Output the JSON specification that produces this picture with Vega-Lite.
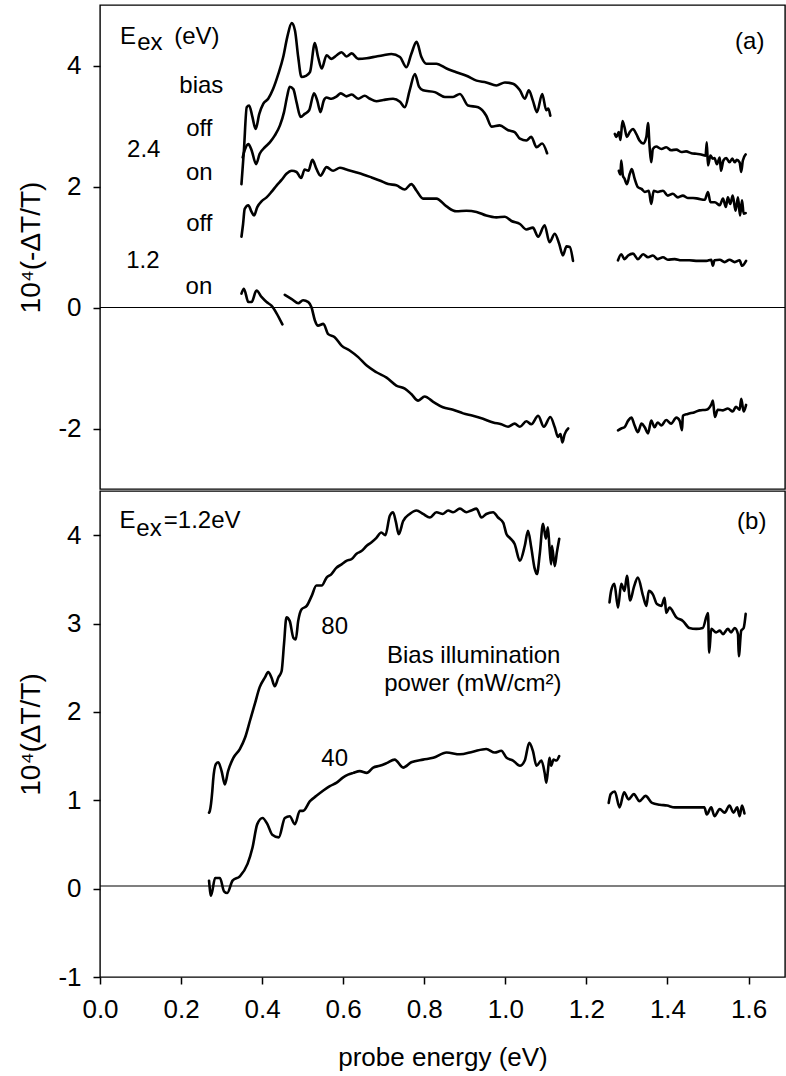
{
"$schema":"https://vega.github.io/schema/vega-lite/v6.json",
"padding":{"left":17,"top":4,"right":0,"bottom":0},
"spacing":0,
"config":{
 "view":{"stroke":"black","strokeWidth":1.4},
 "font":"Liberation Sans",
 "axis":{"grid":false,"domain":false,"tickColor":"black","tickWidth":1.5,"tickSize":7,"labelColor":"black","labelFont":"Liberation Sans","labelFontSize":26,"titleFont":"Liberation Sans","titleFontSize":28,"titleFontWeight":"normal","titleColor":"black","labelFlush":false}
},
"datasets":{
"la":[
{"s":"a1","x":0.349,"y":2.04},{"s":"a1","x":0.355,"y":2.59},{"s":"a1","x":0.362,"y":3.31},{"s":"a1","x":0.368,"y":3.34},{"s":"a1","x":0.376,"y":3.15},{"s":"a1","x":0.384,"y":2.95},{"s":"a1","x":0.393,"y":3.20},{"s":"a1","x":0.403,"y":3.37},{"s":"a1","x":0.415,"y":3.45},{"s":"a1","x":0.427,"y":3.61},{"s":"a1","x":0.440,"y":3.86},{"s":"a1","x":0.452,"y":4.14},{"s":"a1","x":0.462,"y":4.47},{"s":"a1","x":0.473,"y":4.70},{"s":"a1","x":0.481,"y":4.58},{"s":"a1","x":0.489,"y":4.14},{"s":"a1","x":0.497,"y":3.81},{"s":"a1","x":0.508,"y":3.83},{"s":"a1","x":0.518,"y":3.89},{"s":"a1","x":0.530,"y":4.37},{"s":"a1","x":0.538,"y":4.14},{"s":"a1","x":0.547,"y":3.95},{"s":"a1","x":0.559,"y":4.17},{"s":"a1","x":0.571,"y":4.11},{"s":"a1","x":0.584,"y":4.17},{"s":"a1","x":0.596,"y":4.22},{"s":"a1","x":0.608,"y":4.15},{"s":"a1","x":0.621,"y":4.20},{"s":"a1","x":0.637,"y":4.11},{"s":"a1","x":0.658,"y":4.12},{"s":"a1","x":0.682,"y":4.15},{"s":"a1","x":0.699,"y":4.17},{"s":"a1","x":0.719,"y":4.19},{"s":"a1","x":0.740,"y":4.14},{"s":"a1","x":0.756,"y":3.97},{"s":"a1","x":0.768,"y":4.19},{"s":"a1","x":0.781,"y":4.39},{"s":"a1","x":0.793,"y":4.14},{"s":"a1","x":0.805,"y":4.03},{"s":"a1","x":0.830,"y":4.03},{"s":"a1","x":0.855,"y":3.95},{"s":"a1","x":0.879,"y":3.89},{"s":"a1","x":0.904,"y":3.83},{"s":"a1","x":0.929,"y":3.75},{"s":"a1","x":0.953,"y":3.72},{"s":"a1","x":0.978,"y":3.67},{"s":"a1","x":0.999,"y":3.72},{"s":"a1","x":1.019,"y":3.70},{"s":"a1","x":1.036,"y":3.59},{"s":"a1","x":1.048,"y":3.45},{"s":"a1","x":1.058,"y":3.59},{"s":"a1","x":1.068,"y":3.42},{"s":"a1","x":1.078,"y":3.23},{"s":"a1","x":1.091,"y":3.53},{"s":"a1","x":1.101,"y":3.26},{"s":"a1","x":1.106,"y":3.29},{"s":"a1","x":1.111,"y":3.17},
{"s":"a1r","x":1.270,"y":2.87},{"s":"a1r","x":1.274,"y":2.82},{"s":"a1r","x":1.280,"y":2.90},{"s":"a1r","x":1.284,"y":2.77},{"s":"a1r","x":1.289,"y":3.08},{"s":"a1r","x":1.294,"y":2.98},{"s":"a1r","x":1.300,"y":2.82},{"s":"a1r","x":1.307,"y":2.90},{"s":"a1r","x":1.315,"y":2.95},{"s":"a1r","x":1.323,"y":2.87},{"s":"a1r","x":1.331,"y":2.76},{"s":"a1r","x":1.340,"y":2.71},{"s":"a1r","x":1.348,"y":2.82},{"s":"a1r","x":1.352,"y":3.05},{"s":"a1r","x":1.356,"y":2.65},{"s":"a1r","x":1.360,"y":2.40},{"s":"a1r","x":1.364,"y":2.62},{"s":"a1r","x":1.372,"y":2.66},{"s":"a1r","x":1.385,"y":2.62},{"s":"a1r","x":1.397,"y":2.65},{"s":"a1r","x":1.409,"y":2.60},{"s":"a1r","x":1.422,"y":2.61},{"s":"a1r","x":1.434,"y":2.57},{"s":"a1r","x":1.446,"y":2.58},{"s":"a1r","x":1.459,"y":2.55},{"s":"a1r","x":1.471,"y":2.54},{"s":"a1r","x":1.483,"y":2.53},{"s":"a1r","x":1.494,"y":2.51},{"s":"a1r","x":1.497,"y":2.73},{"s":"a1r","x":1.500,"y":2.35},{"s":"a1r","x":1.506,"y":2.51},{"s":"a1r","x":1.512,"y":2.46},{"s":"a1r","x":1.516,"y":2.47},{"s":"a1r","x":1.522,"y":2.37},{"s":"a1r","x":1.529,"y":2.48},{"s":"a1r","x":1.532,"y":2.26},{"s":"a1r","x":1.538,"y":2.43},{"s":"a1r","x":1.545,"y":2.47},{"s":"a1r","x":1.553,"y":2.40},{"s":"a1r","x":1.560,"y":2.46},{"s":"a1r","x":1.566,"y":2.40},{"s":"a1r","x":1.571,"y":2.44},{"s":"a1r","x":1.578,"y":2.40},{"s":"a1r","x":1.582,"y":2.24},{"s":"a1r","x":1.586,"y":2.43},{"s":"a1r","x":1.593,"y":2.53},
{"s":"a2","x":0.352,"y":2.48},{"s":"a2","x":0.357,"y":2.60},{"s":"a2","x":0.366,"y":2.70},{"s":"a2","x":0.374,"y":2.60},{"s":"a2","x":0.385,"y":2.37},{"s":"a2","x":0.394,"y":2.54},{"s":"a2","x":0.407,"y":2.65},{"s":"a2","x":0.419,"y":2.73},{"s":"a2","x":0.431,"y":2.84},{"s":"a2","x":0.444,"y":3.01},{"s":"a2","x":0.454,"y":3.23},{"s":"a2","x":0.462,"y":3.50},{"s":"a2","x":0.468,"y":3.65},{"s":"a2","x":0.477,"y":3.61},{"s":"a2","x":0.485,"y":3.39},{"s":"a2","x":0.495,"y":3.15},{"s":"a2","x":0.505,"y":3.20},{"s":"a2","x":0.516,"y":3.26},{"s":"a2","x":0.528,"y":3.54},{"s":"a2","x":0.536,"y":3.42},{"s":"a2","x":0.544,"y":3.23},{"s":"a2","x":0.552,"y":3.42},{"s":"a2","x":0.559,"y":3.47},{"s":"a2","x":0.571,"y":3.45},{"s":"a2","x":0.584,"y":3.49},{"s":"a2","x":0.594,"y":3.54},{"s":"a2","x":0.608,"y":3.49},{"s":"a2","x":0.621,"y":3.52},{"s":"a2","x":0.637,"y":3.45},{"s":"a2","x":0.653,"y":3.50},{"s":"a2","x":0.666,"y":3.45},{"s":"a2","x":0.682,"y":3.41},{"s":"a2","x":0.699,"y":3.43},{"s":"a2","x":0.723,"y":3.45},{"s":"a2","x":0.740,"y":3.40},{"s":"a2","x":0.752,"y":3.31},{"s":"a2","x":0.764,"y":3.59},{"s":"a2","x":0.777,"y":3.86},{"s":"a2","x":0.787,"y":3.65},{"s":"a2","x":0.797,"y":3.59},{"s":"a2","x":0.826,"y":3.56},{"s":"a2","x":0.851,"y":3.48},{"s":"a2","x":0.871,"y":3.48},{"s":"a2","x":0.888,"y":3.53},{"s":"a2","x":0.908,"y":3.34},{"s":"a2","x":0.933,"y":3.31},{"s":"a2","x":0.953,"y":3.17},{"s":"a2","x":0.966,"y":2.99},{"s":"a2","x":0.986,"y":3.01},{"s":"a2","x":1.007,"y":2.93},{"s":"a2","x":1.023,"y":2.90},{"s":"a2","x":1.036,"y":2.79},{"s":"a2","x":1.052,"y":2.76},{"s":"a2","x":1.064,"y":2.82},{"s":"a2","x":1.077,"y":2.65},{"s":"a2","x":1.091,"y":2.71},{"s":"a2","x":1.103,"y":2.55},
{"s":"a2r","x":1.280,"y":2.26},{"s":"a2r","x":1.284,"y":2.20},{"s":"a2r","x":1.286,"y":2.43},{"s":"a2r","x":1.290,"y":2.18},{"s":"a2r","x":1.294,"y":2.13},{"s":"a2r","x":1.300,"y":2.04},{"s":"a2r","x":1.307,"y":2.21},{"s":"a2r","x":1.312,"y":2.29},{"s":"a2r","x":1.319,"y":2.13},{"s":"a2r","x":1.327,"y":1.99},{"s":"a2r","x":1.336,"y":1.96},{"s":"a2r","x":1.344,"y":1.91},{"s":"a2r","x":1.354,"y":1.93},{"s":"a2r","x":1.360,"y":1.71},{"s":"a2r","x":1.366,"y":1.93},{"s":"a2r","x":1.376,"y":1.91},{"s":"a2r","x":1.389,"y":1.93},{"s":"a2r","x":1.401,"y":1.85},{"s":"a2r","x":1.413,"y":1.88},{"s":"a2r","x":1.426,"y":1.82},{"s":"a2r","x":1.438,"y":1.85},{"s":"a2r","x":1.450,"y":1.81},{"s":"a2r","x":1.463,"y":1.81},{"s":"a2r","x":1.475,"y":1.80},{"s":"a2r","x":1.492,"y":1.78},{"s":"a2r","x":1.500,"y":1.91},{"s":"a2r","x":1.506,"y":1.74},{"s":"a2r","x":1.517,"y":1.74},{"s":"a2r","x":1.529,"y":1.69},{"s":"a2r","x":1.537,"y":1.80},{"s":"a2r","x":1.544,"y":1.66},{"s":"a2r","x":1.549,"y":1.82},{"s":"a2r","x":1.555,"y":1.71},{"s":"a2r","x":1.561,"y":1.85},{"s":"a2r","x":1.568,"y":1.60},{"s":"a2r","x":1.574,"y":1.82},{"s":"a2r","x":1.579,"y":1.52},{"s":"a2r","x":1.584,"y":1.77},{"s":"a2r","x":1.588,"y":1.55},{"s":"a2r","x":1.593,"y":1.56},
{"s":"a3","x":0.349,"y":1.17},{"s":"a3","x":0.353,"y":1.38},{"s":"a3","x":0.357,"y":1.63},{"s":"a3","x":0.366,"y":1.69},{"s":"a3","x":0.374,"y":1.58},{"s":"a3","x":0.380,"y":1.52},{"s":"a3","x":0.388,"y":1.66},{"s":"a3","x":0.399,"y":1.76},{"s":"a3","x":0.411,"y":1.82},{"s":"a3","x":0.423,"y":1.91},{"s":"a3","x":0.436,"y":2.02},{"s":"a3","x":0.448,"y":2.11},{"s":"a3","x":0.460,"y":2.21},{"s":"a3","x":0.473,"y":2.26},{"s":"a3","x":0.485,"y":2.24},{"s":"a3","x":0.496,"y":2.14},{"s":"a3","x":0.505,"y":2.28},{"s":"a3","x":0.514,"y":2.26},{"s":"a3","x":0.524,"y":2.44},{"s":"a3","x":0.534,"y":2.29},{"s":"a3","x":0.544,"y":2.18},{"s":"a3","x":0.559,"y":2.32},{"s":"a3","x":0.575,"y":2.26},{"s":"a3","x":0.592,"y":2.31},{"s":"a3","x":0.608,"y":2.28},{"s":"a3","x":0.629,"y":2.24},{"s":"a3","x":0.649,"y":2.20},{"s":"a3","x":0.670,"y":2.15},{"s":"a3","x":0.690,"y":2.10},{"s":"a3","x":0.711,"y":2.04},{"s":"a3","x":0.731,"y":2.02},{"s":"a3","x":0.752,"y":1.95},{"s":"a3","x":0.768,"y":2.04},{"s":"a3","x":0.781,"y":1.93},{"s":"a3","x":0.797,"y":1.80},{"s":"a3","x":0.830,"y":1.80},{"s":"a3","x":0.855,"y":1.67},{"s":"a3","x":0.879,"y":1.59},{"s":"a3","x":0.904,"y":1.60},{"s":"a3","x":0.929,"y":1.58},{"s":"a3","x":0.953,"y":1.52},{"s":"a3","x":0.978,"y":1.49},{"s":"a3","x":0.999,"y":1.50},{"s":"a3","x":1.015,"y":1.43},{"s":"a3","x":1.036,"y":1.38},{"s":"a3","x":1.052,"y":1.29},{"s":"a3","x":1.068,"y":1.32},{"s":"a3","x":1.081,"y":1.17},{"s":"a3","x":1.097,"y":1.36},{"s":"a3","x":1.109,"y":1.08},{"s":"a3","x":1.122,"y":1.22},{"s":"a3","x":1.133,"y":1.05},{"s":"a3","x":1.142,"y":0.86},{"s":"a3","x":1.151,"y":1.01},{"s":"a3","x":1.159,"y":1.00},{"s":"a3","x":1.167,"y":0.77},
{"s":"a3r","x":1.278,"y":0.78},{"s":"a3r","x":1.286,"y":0.88},{"s":"a3r","x":1.294,"y":0.80},{"s":"a3r","x":1.303,"y":0.86},{"s":"a3r","x":1.315,"y":0.89},{"s":"a3r","x":1.327,"y":0.80},{"s":"a3r","x":1.340,"y":0.88},{"s":"a3r","x":1.352,"y":0.83},{"s":"a3r","x":1.364,"y":0.86},{"s":"a3r","x":1.376,"y":0.80},{"s":"a3r","x":1.389,"y":0.83},{"s":"a3r","x":1.401,"y":0.79},{"s":"a3r","x":1.418,"y":0.80},{"s":"a3r","x":1.434,"y":0.78},{"s":"a3r","x":1.454,"y":0.78},{"s":"a3r","x":1.475,"y":0.77},{"s":"a3r","x":1.496,"y":0.77},{"s":"a3r","x":1.508,"y":0.79},{"s":"a3r","x":1.512,"y":0.69},{"s":"a3r","x":1.516,"y":0.78},{"s":"a3r","x":1.529,"y":0.79},{"s":"a3r","x":1.541,"y":0.75},{"s":"a3r","x":1.553,"y":0.79},{"s":"a3r","x":1.566,"y":0.75},{"s":"a3r","x":1.578,"y":0.78},{"s":"a3r","x":1.584,"y":0.69},{"s":"a3r","x":1.594,"y":0.77},
{"s":"a4l","x":0.349,"y":0.23},{"s":"a4l","x":0.355,"y":0.31},{"s":"a4l","x":0.366,"y":0.09},{"s":"a4l","x":0.374,"y":0.09},{"s":"a4l","x":0.386,"y":0.28},{"s":"a4l","x":0.399,"y":0.17},{"s":"a4l","x":0.411,"y":0.09},{"s":"a4l","x":0.423,"y":0.03},{"s":"a4l","x":0.436,"y":-0.10},{"s":"a4l","x":0.450,"y":-0.28},
{"s":"a4","x":0.456,"y":0.21},{"s":"a4","x":0.473,"y":0.14},{"s":"a4","x":0.489,"y":0.07},{"s":"a4","x":0.501,"y":0.12},{"s":"a4","x":0.514,"y":0.09},{"s":"a4","x":0.522,"y":0.00},{"s":"a4","x":0.530,"y":-0.21},{"s":"a4","x":0.538,"y":-0.30},{"s":"a4","x":0.551,"y":-0.27},{"s":"a4","x":0.563,"y":-0.44},{"s":"a4","x":0.579,"y":-0.49},{"s":"a4","x":0.596,"y":-0.63},{"s":"a4","x":0.616,"y":-0.71},{"s":"a4","x":0.637,"y":-0.82},{"s":"a4","x":0.658,"y":-0.96},{"s":"a4","x":0.682,"y":-1.07},{"s":"a4","x":0.707,"y":-1.16},{"s":"a4","x":0.731,"y":-1.29},{"s":"a4","x":0.752,"y":-1.34},{"s":"a4","x":0.768,"y":-1.43},{"s":"a4","x":0.785,"y":-1.54},{"s":"a4","x":0.801,"y":-1.47},{"s":"a4","x":0.822,"y":-1.56},{"s":"a4","x":0.846,"y":-1.65},{"s":"a4","x":0.871,"y":-1.69},{"s":"a4","x":0.896,"y":-1.75},{"s":"a4","x":0.920,"y":-1.79},{"s":"a4","x":0.945,"y":-1.84},{"s":"a4","x":0.970,"y":-1.90},{"s":"a4","x":0.990,"y":-1.93},{"s":"a4","x":1.007,"y":-1.97},{"s":"a4","x":1.023,"y":-1.92},{"s":"a4","x":1.036,"y":-1.97},{"s":"a4","x":1.052,"y":-1.88},{"s":"a4","x":1.064,"y":-1.93},{"s":"a4","x":1.081,"y":-1.79},{"s":"a4","x":1.095,"y":-1.97},{"s":"a4","x":1.111,"y":-1.81},{"s":"a4","x":1.122,"y":-1.98},{"s":"a4","x":1.130,"y":-2.14},{"s":"a4","x":1.136,"y":-2.09},{"s":"a4","x":1.141,"y":-2.23},{"s":"a4","x":1.146,"y":-2.10},{"s":"a4","x":1.155,"y":-2.00},
{"s":"a4r","x":1.278,"y":-2.03},{"s":"a4r","x":1.286,"y":-2.00},{"s":"a4r","x":1.294,"y":-1.98},{"s":"a4r","x":1.303,"y":-1.87},{"s":"a4r","x":1.311,"y":-1.82},{"s":"a4r","x":1.319,"y":-1.95},{"s":"a4r","x":1.327,"y":-2.06},{"s":"a4r","x":1.336,"y":-1.92},{"s":"a4r","x":1.344,"y":-1.98},{"s":"a4r","x":1.352,"y":-2.08},{"s":"a4r","x":1.360,"y":-1.87},{"s":"a4r","x":1.368,"y":-1.98},{"s":"a4r","x":1.376,"y":-1.90},{"s":"a4r","x":1.385,"y":-1.95},{"s":"a4r","x":1.397,"y":-1.86},{"s":"a4r","x":1.409,"y":-1.92},{"s":"a4r","x":1.422,"y":-1.82},{"s":"a4r","x":1.430,"y":-1.87},{"s":"a4r","x":1.436,"y":-2.03},{"s":"a4r","x":1.438,"y":-1.79},{"s":"a4r","x":1.450,"y":-1.76},{"s":"a4r","x":1.467,"y":-1.73},{"s":"a4r","x":1.479,"y":-1.70},{"s":"a4r","x":1.496,"y":-1.69},{"s":"a4r","x":1.509,"y":-1.59},{"s":"a4r","x":1.512,"y":-1.54},{"s":"a4r","x":1.517,"y":-1.81},{"s":"a4r","x":1.524,"y":-1.69},{"s":"a4r","x":1.537,"y":-1.70},{"s":"a4r","x":1.549,"y":-1.67},{"s":"a4r","x":1.561,"y":-1.72},{"s":"a4r","x":1.569,"y":-1.64},{"s":"a4r","x":1.578,"y":-1.69},{"s":"a4r","x":1.582,"y":-1.51},{"s":"a4r","x":1.588,"y":-1.72},{"s":"a4r","x":1.594,"y":-1.61}
],
"lb":[
{"s":"b80","x":0.269,"y":0.86},{"s":"b80","x":0.271,"y":0.88},{"s":"b80","x":0.277,"y":1.10},{"s":"b80","x":0.279,"y":1.22},{"s":"b80","x":0.286,"y":1.41},{"s":"b80","x":0.292,"y":1.43},{"s":"b80","x":0.300,"y":1.33},{"s":"b80","x":0.308,"y":1.18},{"s":"b80","x":0.316,"y":1.33},{"s":"b80","x":0.329,"y":1.48},{"s":"b80","x":0.345,"y":1.58},{"s":"b80","x":0.358,"y":1.71},{"s":"b80","x":0.370,"y":1.90},{"s":"b80","x":0.382,"y":2.09},{"s":"b80","x":0.394,"y":2.28},{"s":"b80","x":0.407,"y":2.39},{"s":"b80","x":0.415,"y":2.45},{"s":"b80","x":0.423,"y":2.39},{"s":"b80","x":0.431,"y":2.29},{"s":"b80","x":0.440,"y":2.39},{"s":"b80","x":0.448,"y":2.46},{"s":"b80","x":0.454,"y":2.77},{"s":"b80","x":0.460,"y":3.07},{"s":"b80","x":0.468,"y":3.03},{"s":"b80","x":0.477,"y":2.84},{"s":"b80","x":0.483,"y":2.82},{"s":"b80","x":0.489,"y":3.03},{"s":"b80","x":0.497,"y":3.16},{"s":"b80","x":0.510,"y":3.20},{"s":"b80","x":0.522,"y":3.31},{"s":"b80","x":0.534,"y":3.43},{"s":"b80","x":0.547,"y":3.43},{"s":"b80","x":0.559,"y":3.52},{"s":"b80","x":0.571,"y":3.56},{"s":"b80","x":0.583,"y":3.63},{"s":"b80","x":0.596,"y":3.67},{"s":"b80","x":0.608,"y":3.71},{"s":"b80","x":0.621,"y":3.73},{"s":"b80","x":0.633,"y":3.79},{"s":"b80","x":0.645,"y":3.82},{"s":"b80","x":0.658,"y":3.88},{"s":"b80","x":0.670,"y":3.92},{"s":"b80","x":0.682,"y":3.97},{"s":"b80","x":0.694,"y":4.03},{"s":"b80","x":0.704,"y":4.00},{"s":"b80","x":0.715,"y":4.22},{"s":"b80","x":0.723,"y":4.26},{"s":"b80","x":0.730,"y":4.15},{"s":"b80","x":0.737,"y":4.01},{"s":"b80","x":0.748,"y":4.16},{"s":"b80","x":0.764,"y":4.24},{"s":"b80","x":0.781,"y":4.28},{"s":"b80","x":0.797,"y":4.24},{"s":"b80","x":0.814,"y":4.20},{"s":"b80","x":0.830,"y":4.26},{"s":"b80","x":0.846,"y":4.24},{"s":"b80","x":0.859,"y":4.28},{"s":"b80","x":0.871,"y":4.26},{"s":"b80","x":0.888,"y":4.30},{"s":"b80","x":0.904,"y":4.26},{"s":"b80","x":0.916,"y":4.28},{"s":"b80","x":0.929,"y":4.30},{"s":"b80","x":0.941,"y":4.20},{"s":"b80","x":0.953,"y":4.24},{"s":"b80","x":0.970,"y":4.26},{"s":"b80","x":0.982,"y":4.20},{"s":"b80","x":0.995,"y":4.14},{"s":"b80","x":1.003,"y":4.01},{"s":"b80","x":1.011,"y":3.97},{"s":"b80","x":1.023,"y":3.90},{"s":"b80","x":1.036,"y":3.71},{"s":"b80","x":1.048,"y":3.88},{"s":"b80","x":1.056,"y":4.05},{"s":"b80","x":1.064,"y":3.86},{"s":"b80","x":1.072,"y":3.63},{"s":"b80","x":1.078,"y":3.56},{"s":"b80","x":1.085,"y":3.79},{"s":"b80","x":1.093,"y":4.13},{"s":"b80","x":1.100,"y":3.96},{"s":"b80","x":1.105,"y":4.09},{"s":"b80","x":1.109,"y":3.86},{"s":"b80","x":1.113,"y":3.67},{"s":"b80","x":1.115,"y":3.88},{"s":"b80","x":1.122,"y":3.65},{"s":"b80","x":1.127,"y":3.80},{"s":"b80","x":1.133,"y":3.96},
{"s":"b80r","x":1.257,"y":3.24},{"s":"b80r","x":1.261,"y":3.37},{"s":"b80r","x":1.269,"y":3.45},{"s":"b80r","x":1.278,"y":3.18},{"s":"b80r","x":1.286,"y":3.45},{"s":"b80r","x":1.294,"y":3.37},{"s":"b80r","x":1.300,"y":3.54},{"s":"b80r","x":1.308,"y":3.26},{"s":"b80r","x":1.317,"y":3.41},{"s":"b80r","x":1.327,"y":3.52},{"s":"b80r","x":1.340,"y":3.31},{"s":"b80r","x":1.348,"y":3.20},{"s":"b80r","x":1.354,"y":3.37},{"s":"b80r","x":1.364,"y":3.33},{"s":"b80r","x":1.374,"y":3.22},{"s":"b80r","x":1.385,"y":3.20},{"s":"b80r","x":1.393,"y":3.29},{"s":"b80r","x":1.397,"y":3.12},{"s":"b80r","x":1.405,"y":3.18},{"s":"b80r","x":1.422,"y":3.07},{"s":"b80r","x":1.438,"y":3.03},{"s":"b80r","x":1.454,"y":2.95},{"s":"b80r","x":1.471,"y":2.94},{"s":"b80r","x":1.487,"y":2.95},{"s":"b80r","x":1.500,"y":3.12},{"s":"b80r","x":1.503,"y":2.67},{"s":"b80r","x":1.508,"y":2.94},{"s":"b80r","x":1.520,"y":2.90},{"s":"b80r","x":1.529,"y":2.92},{"s":"b80r","x":1.537,"y":2.88},{"s":"b80r","x":1.549,"y":2.94},{"s":"b80r","x":1.557,"y":2.90},{"s":"b80r","x":1.566,"y":2.95},{"s":"b80r","x":1.574,"y":2.88},{"s":"b80r","x":1.576,"y":2.63},{"s":"b80r","x":1.582,"y":2.92},{"s":"b80r","x":1.588,"y":2.95},{"s":"b80r","x":1.593,"y":3.11},
{"s":"b40","x":0.269,"y":0.09},{"s":"b40","x":0.274,"y":-0.08},{"s":"b40","x":0.284,"y":0.12},{"s":"b40","x":0.296,"y":0.12},{"s":"b40","x":0.306,"y":-0.03},{"s":"b40","x":0.314,"y":-0.05},{"s":"b40","x":0.327,"y":0.09},{"s":"b40","x":0.345,"y":0.14},{"s":"b40","x":0.364,"y":0.28},{"s":"b40","x":0.376,"y":0.46},{"s":"b40","x":0.388,"y":0.73},{"s":"b40","x":0.401,"y":0.80},{"s":"b40","x":0.413,"y":0.73},{"s":"b40","x":0.425,"y":0.61},{"s":"b40","x":0.441,"y":0.58},{"s":"b40","x":0.456,"y":0.80},{"s":"b40","x":0.468,"y":0.82},{"s":"b40","x":0.481,"y":0.73},{"s":"b40","x":0.493,"y":0.88},{"s":"b40","x":0.501,"y":0.88},{"s":"b40","x":0.518,"y":0.99},{"s":"b40","x":0.534,"y":1.05},{"s":"b40","x":0.551,"y":1.11},{"s":"b40","x":0.567,"y":1.16},{"s":"b40","x":0.584,"y":1.20},{"s":"b40","x":0.600,"y":1.26},{"s":"b40","x":0.612,"y":1.29},{"s":"b40","x":0.625,"y":1.31},{"s":"b40","x":0.641,"y":1.33},{"s":"b40","x":0.658,"y":1.31},{"s":"b40","x":0.674,"y":1.37},{"s":"b40","x":0.690,"y":1.39},{"s":"b40","x":0.707,"y":1.42},{"s":"b40","x":0.727,"y":1.46},{"s":"b40","x":0.748,"y":1.37},{"s":"b40","x":0.768,"y":1.43},{"s":"b40","x":0.797,"y":1.46},{"s":"b40","x":0.822,"y":1.48},{"s":"b40","x":0.855,"y":1.54},{"s":"b40","x":0.888,"y":1.52},{"s":"b40","x":0.920,"y":1.55},{"s":"b40","x":0.953,"y":1.58},{"s":"b40","x":0.974,"y":1.54},{"s":"b40","x":0.990,"y":1.56},{"s":"b40","x":1.003,"y":1.48},{"s":"b40","x":1.019,"y":1.45},{"s":"b40","x":1.036,"y":1.39},{"s":"b40","x":1.048,"y":1.45},{"s":"b40","x":1.059,"y":1.65},{"s":"b40","x":1.068,"y":1.56},{"s":"b40","x":1.077,"y":1.39},{"s":"b40","x":1.089,"y":1.45},{"s":"b40","x":1.097,"y":1.31},{"s":"b40","x":1.101,"y":1.20},{"s":"b40","x":1.105,"y":1.33},{"s":"b40","x":1.109,"y":1.48},{"s":"b40","x":1.113,"y":1.39},{"s":"b40","x":1.119,"y":1.46},{"s":"b40","x":1.126,"y":1.45},{"s":"b40","x":1.133,"y":1.50},
{"s":"b40r","x":1.255,"y":0.97},{"s":"b40r","x":1.260,"y":1.07},{"s":"b40r","x":1.270,"y":1.10},{"s":"b40r","x":1.282,"y":0.92},{"s":"b40r","x":1.293,"y":1.09},{"s":"b40r","x":1.304,"y":1.01},{"s":"b40r","x":1.317,"y":1.07},{"s":"b40r","x":1.331,"y":0.99},{"s":"b40r","x":1.346,"y":1.05},{"s":"b40r","x":1.362,"y":0.97},{"s":"b40r","x":1.381,"y":0.95},{"s":"b40r","x":1.399,"y":0.94},{"s":"b40r","x":1.418,"y":0.92},{"s":"b40r","x":1.443,"y":0.92},{"s":"b40r","x":1.467,"y":0.92},{"s":"b40r","x":1.491,"y":0.92},{"s":"b40r","x":1.497,"y":0.84},{"s":"b40r","x":1.508,"y":0.92},{"s":"b40r","x":1.516,"y":0.82},{"s":"b40r","x":1.529,"y":0.90},{"s":"b40r","x":1.541,"y":0.86},{"s":"b40r","x":1.553,"y":0.94},{"s":"b40r","x":1.563,"y":0.86},{"s":"b40r","x":1.572,"y":0.92},{"s":"b40r","x":1.578,"y":0.82},{"s":"b40r","x":1.584,"y":0.94},{"s":"b40r","x":1.590,"y":0.85}
],
"ta":[
{"t":"E","x":0.069,"y":4.35},{"t":"ex","x":0.123,"y":4.25},{"t":"(eV)","x":0.239,"y":4.35},
{"t":"bias","x":0.25,"y":3.55},{"t":"off","x":0.245,"y":2.84},{"t":"2.4","x":0.108,"y":2.48},{"t":"on","x":0.245,"y":2.10},{"t":"off","x":0.245,"y":1.26},{"t":"1.2","x":0.106,"y":0.66},{"t":"on","x":0.244,"y":0.23},{"t":"(a)","x":1.603,"y":4.28}
],
"tb":[
{"t":"E","x":0.068,"y":4.08},{"t":"ex","x":0.121,"y":3.99},{"t":"=1.2eV","x":0.252,"y":4.08},{"t":"(b)","x":1.608,"y":4.07},
{"t":"80","x":0.579,"y":2.88},{"t":"40","x":0.579,"y":1.39},{"t":"Bias illumination","x":0.922,"y":2.55},{"t":"power (mW/cm²)","x":0.92,"y":2.24}
],
"za":[{"y":0}],
"zb":[{"y":0.03}]
},
"vconcat":[
{
 "width":685,"height":484,
 "layer":[
  {"data":{"name":"za"},"mark":{"type":"rule","color":"black","strokeWidth":1.2},
   "encoding":{"y":{"field":"y","type":"quantitative","scale":{"domain":[-3,5],"nice":false,"zero":false},
     "axis":{"title":"10⁴(-ΔT/T)","values":[-2,0,2,4],"labelExpr":"datum.value < 0 ? '-' + abs(datum.value) : '' + datum.value","labelPadding":12,"titlePadding":12}}}},
  {"data":{"name":"la"},"mark":{"type":"line","color":"black","strokeWidth":2.6,"strokeJoin":"round","strokeCap":"round","interpolate":"monotone"},
   "encoding":{"x":{"field":"x","type":"quantitative","scale":{"domain":[0,1.69],"nice":false,"zero":false},"axis":null},
     "y":{"field":"y","type":"quantitative"},"detail":{"field":"s","type":"nominal"}}},
  {"data":{"name":"ta"},"mark":{"type":"text","align":"center","baseline":"alphabetic","fontSize":24,"font":"Liberation Sans","color":"black"},
   "encoding":{"x":{"field":"x","type":"quantitative"},"y":{"field":"y","type":"quantitative"},"text":{"field":"t","type":"nominal"}}}
 ]
},
{
 "width":685,"height":486,
 "layer":[
  {"data":{"name":"zb"},"mark":{"type":"rule","color":"black","strokeWidth":1.2},
   "encoding":{"y":{"field":"y","type":"quantitative","scale":{"domain":[-1,4.5],"nice":false,"zero":false},
     "axis":{"title":"10⁴(ΔT/T)","values":[-1,0,1,2,3,4],"labelExpr":"datum.value < 0 ? '-' + abs(datum.value) : '' + datum.value","labelPadding":12,"titlePadding":12}}}},
  {"data":{"name":"lb"},"mark":{"type":"line","color":"black","strokeWidth":2.6,"strokeJoin":"round","strokeCap":"round","interpolate":"monotone"},
   "encoding":{"x":{"field":"x","type":"quantitative","scale":{"domain":[0,1.69],"nice":false,"zero":false},
     "axis":{"title":"probe energy (eV)","titleFontSize":26,"values":[0,0.2,0.4,0.6,0.8,1.0,1.2,1.4,1.6],"format":".1f","labelPadding":12,"titlePadding":22}},
     "y":{"field":"y","type":"quantitative"},"detail":{"field":"s","type":"nominal"}}},
  {"data":{"name":"tb"},"mark":{"type":"text","align":"center","baseline":"alphabetic","fontSize":24,"font":"Liberation Sans","color":"black"},
   "encoding":{"x":{"field":"x","type":"quantitative"},"y":{"field":"y","type":"quantitative"},"text":{"field":"t","type":"nominal"}}}
 ]
}
],
"resolve":{"scale":{"y":"independent"}}
}
